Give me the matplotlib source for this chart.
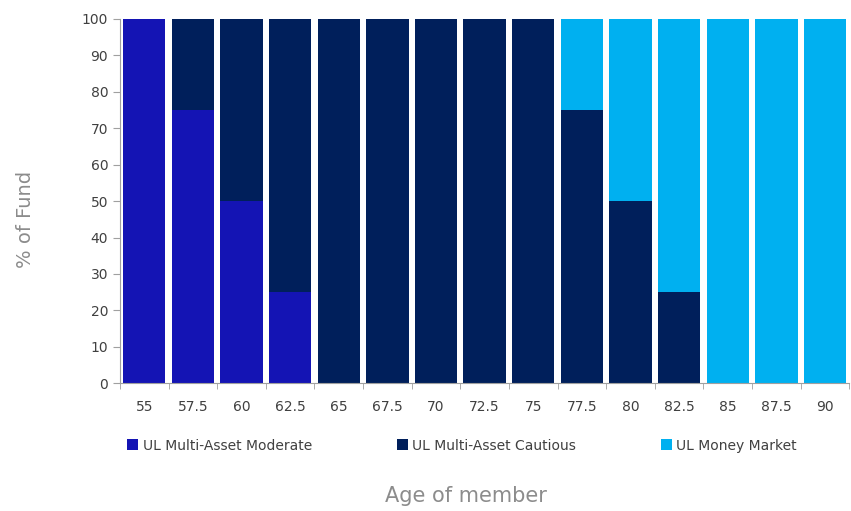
import matplotlib.pyplot as plt
import numpy as np

# Data
ages = ["55", "57.5", "60", "62.5", "65", "67.5", "70", "72.5", "75",
        "77.5", "80", "82.5", "85", "87.5", "90"]
moderate = [100, 75, 50, 25, 0, 0, 0, 0, 0, 0, 0, 0, 0, 0, 0]
cautious = [0, 25, 50, 75, 100, 100, 100, 100, 100, 75, 50, 25, 0, 0, 0]
money_market = [0, 0, 0, 0, 0, 0, 0, 0, 0, 25, 50, 75, 100, 100, 100]
series_names = ["UL Multi-Asset Moderate", "UL Multi-Asset Cautious", "UL Money Market"]
colors = ["#1414b4", "#001f5b", "#00b0f0"]

fig = plt.figure(figsize=(8.51, 5.11), dpi=100)
ax = fig.add_axes([0.141, 0.25, 0.857, 0.713])

x = np.arange(len(ages))
bottom = np.zeros(len(ages))
handles = []
for vals, name, col in zip([moderate, cautious, money_market], series_names, colors):
    b = ax.bar(x, vals, bottom=bottom, width=0.87, color=col, label=name)
    handles.append(b)
    bottom += np.array(vals)

ax.set_xlim(-0.5, len(ages) - 0.5)
ax.set_ylim(0, 100)
ax.set_yticks(range(0, 101, 10))
ax.set_xticks(x)
ax.set_xticklabels(ages)
ax.set_xticks(np.arange(-0.5, len(ages), 1), minor=True)
ax.tick_params(axis="x", which="major", length=0, pad=12, labelsize=10, labelcolor="#404040")
ax.tick_params(axis="x", which="minor", length=4, color="#a0a0a0")
ax.tick_params(axis="y", length=5, color="#a0a0a0", labelsize=10, labelcolor="#404040")

for s in ["top", "right"]:
    ax.spines[s].set_visible(False)
for s in ["left", "bottom"]:
    ax.spines[s].set_color("#a0a0a0")

fig.text(0.03, 0.57, "% of Fund", rotation=90, ha="center", va="center",
         fontsize=14, color="#8c8c8c")
fig.text(0.547, 0.03, "Age of member", ha="center", va="center",
         fontsize=15, color="#8c8c8c")

fig.legend(handles=handles, labels=series_names, loc="center left",
           bbox_to_anchor=(0.135, 0.128), ncol=3, frameon=False, fontsize=10,
           handlelength=0.8, handleheight=0.8, handletextpad=0.3,
           columnspacing=6.1, labelcolor="#404040")

plt.savefig("out.png", dpi=100)
